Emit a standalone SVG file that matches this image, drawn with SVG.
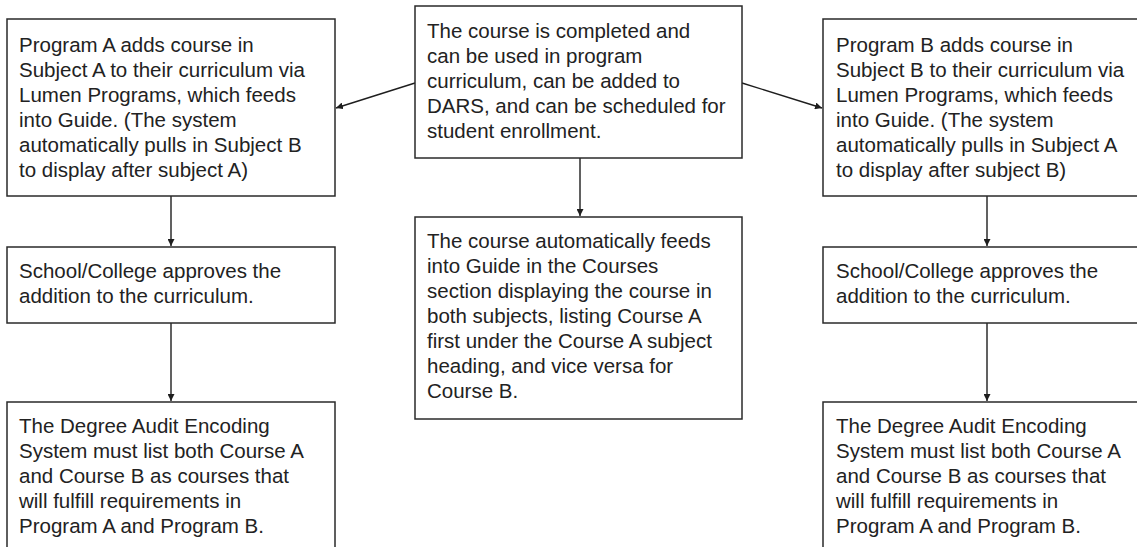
<svg xmlns="http://www.w3.org/2000/svg" width="1137" height="547" viewBox="0 0 1137 547">
<style>
.box{fill:#fff;stroke:#2a2a2a;stroke-width:1.5}
.t{font-family:"Liberation Sans",Arial,sans-serif;font-size:20.5px;fill:#222}
.c{stroke:#1e1e1e;stroke-width:1.4;fill:none}
</style>
<defs>
<marker id="ah" viewBox="0 0 10 10" refX="10" refY="5" markerWidth="7" markerHeight="7" markerUnits="userSpaceOnUse" orient="auto">
<path d="M0,0 L10,5 L0,10 z" fill="#1e1e1e"/>
</marker>
</defs>
<rect width="1137" height="547" fill="#fff"/>
<g id="connectors">
<line class="c" x1="415" y1="83" x2="336" y2="108" marker-end="url(#ah)"/>
<line class="c" x1="742" y1="83" x2="822" y2="108" marker-end="url(#ah)"/>
<line class="c" x1="580" y1="158" x2="580" y2="216" marker-end="url(#ah)"/>
<line class="c" x1="171" y1="196" x2="171" y2="246" marker-end="url(#ah)"/>
<line class="c" x1="171" y1="323" x2="171" y2="401" marker-end="url(#ah)"/>
<line class="c" x1="987" y1="196" x2="987" y2="246" marker-end="url(#ah)"/>
<line class="c" x1="987" y1="323" x2="987" y2="401" marker-end="url(#ah)"/>
</g>
<g id="center-top">
<rect class="box" x="415" y="6" width="327" height="152"/>
<text class="t" x="427" y="38">The course is completed and</text>
<text class="t" x="427" y="63">can be used in program</text>
<text class="t" x="427" y="88">curriculum, can be added to</text>
<text class="t" x="427" y="113">DARS, and can be scheduled for</text>
<text class="t" x="427" y="138">student enrollment.</text>
</g>
<g id="center-guide">
<rect class="box" x="415" y="217" width="327" height="202"/>
<text class="t" x="427" y="248">The course automatically feeds</text>
<text class="t" x="427" y="273">into Guide in the Courses</text>
<text class="t" x="427" y="298">section displaying the course in</text>
<text class="t" x="427" y="323">both subjects, listing Course A</text>
<text class="t" x="427" y="348">first under the Course A subject</text>
<text class="t" x="427" y="373">heading, and vice versa for</text>
<text class="t" x="427" y="398">Course B.</text>
</g>
<g id="left-program">
<rect class="box" x="7" y="19" width="328" height="177"/>
<text class="t" x="19" y="52">Program A adds course in</text>
<text class="t" x="19" y="77">Subject A to their curriculum via</text>
<text class="t" x="19" y="102">Lumen Programs, which feeds</text>
<text class="t" x="19" y="127">into Guide. (The system</text>
<text class="t" x="19" y="152">automatically pulls in Subject B</text>
<text class="t" x="19" y="177">to display after subject A)</text>
</g>
<g id="left-approve">
<rect class="box" x="7" y="247" width="328" height="76"/>
<text class="t" x="19" y="278">School/College approves the</text>
<text class="t" x="19" y="303">addition to the curriculum.</text>
</g>
<g id="left-degree">
<rect class="box" x="7" y="402" width="328" height="160"/>
<text class="t" x="19" y="433">The Degree Audit Encoding</text>
<text class="t" x="19" y="458">System must list both Course A</text>
<text class="t" x="19" y="483">and Course B as courses that</text>
<text class="t" x="19" y="508">will fulfill requirements in</text>
<text class="t" x="19" y="533">Program A and Program B.</text>
</g>
<g id="right-program">
<rect class="box" x="823" y="19" width="328" height="177"/>
<text class="t" x="836" y="52">Program B adds course in</text>
<text class="t" x="836" y="77">Subject B to their curriculum via</text>
<text class="t" x="836" y="102">Lumen Programs, which feeds</text>
<text class="t" x="836" y="127">into Guide. (The system</text>
<text class="t" x="836" y="152">automatically pulls in Subject A</text>
<text class="t" x="836" y="177">to display after subject B)</text>
</g>
<g id="right-approve">
<rect class="box" x="823" y="247" width="328" height="76"/>
<text class="t" x="836" y="278">School/College approves the</text>
<text class="t" x="836" y="303">addition to the curriculum.</text>
</g>
<g id="right-degree">
<rect class="box" x="823" y="402" width="328" height="160"/>
<text class="t" x="836" y="433">The Degree Audit Encoding</text>
<text class="t" x="836" y="458">System must list both Course A</text>
<text class="t" x="836" y="483">and Course B as courses that</text>
<text class="t" x="836" y="508">will fulfill requirements in</text>
<text class="t" x="836" y="533">Program A and Program B.</text>
</g>
</svg>
